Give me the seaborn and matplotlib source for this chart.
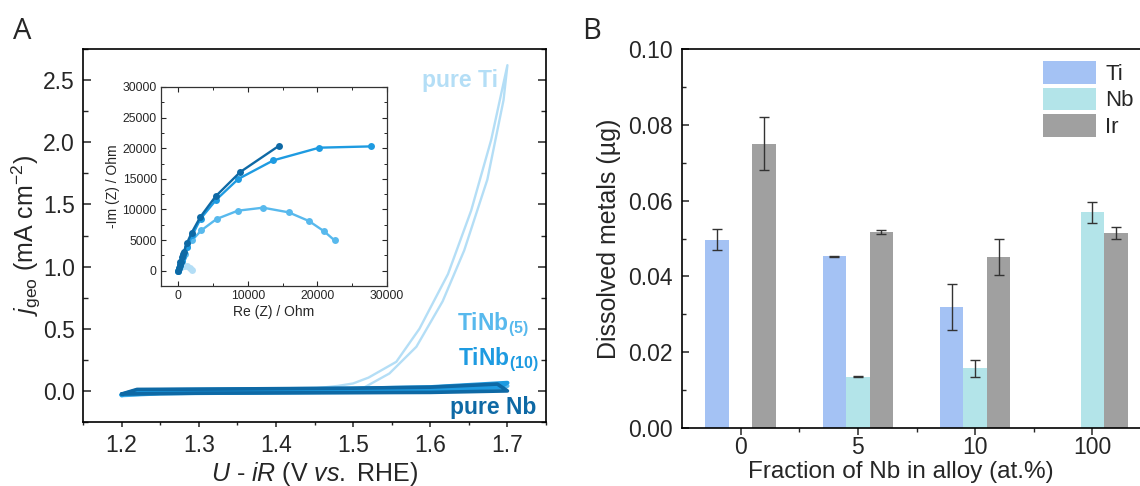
import numpy as np
import pandas as pd
import matplotlib
matplotlib.use("Agg")
import matplotlib.pyplot as plt
from matplotlib.ticker import MultipleLocator, FixedLocator
import seaborn as sns

# ---------------- data: panel A (CV curves) ----------------
ti_v = [1.20, 1.22, 1.30, 1.40, 1.45, 1.48, 1.50, 1.52, 1.556, 1.586, 1.623, 1.653, 1.679, 1.700,
        1.695, 1.674, 1.644, 1.616, 1.582, 1.547, 1.515, 1.48, 1.40, 1.30, 1.22, 1.20]
ti_j = [-0.03, 0.0, 0.005, 0.01, 0.02, 0.04, 0.06, 0.107, 0.234, 0.50, 0.94, 1.45, 2.02, 2.62,
        2.34, 1.70, 1.13, 0.72, 0.355, 0.14, 0.03, 0.0, -0.01, -0.02, -0.025, -0.03]
nb5_v = [1.20, 1.22, 1.35, 1.50, 1.60, 1.70, 1.69, 1.55, 1.40, 1.25, 1.20]
nb5_j = [-0.035, 0.0, 0.008, 0.012, 0.02, 0.04, 0.02, -0.008, -0.012, -0.02, -0.035]
nb10_v = [1.20, 1.22, 1.35, 1.50, 1.60, 1.70, 1.69, 1.55, 1.40, 1.25, 1.20]
nb10_j = [-0.03, 0.005, 0.012, 0.018, 0.03, 0.065, 0.03, -0.005, -0.01, -0.018, -0.03]
nbp_v = [1.20, 1.22, 1.35, 1.50, 1.60, 1.687, 1.70, 1.60, 1.45, 1.30, 1.20]
nbp_j = [-0.025, 0.012, 0.016, 0.022, 0.03, 0.055, 0.0, -0.012, -0.015, -0.018, -0.025]

# ---------------- data: inset (Nyquist) ----------------
eis_ti_re = [0, 300, 800, 1300, 1700, 2000]
eis_ti_im = [0, 500, 800, 700, 400, 100]
eis_nb5_re = [0, 200, 500, 900, 1300, 1960, 3300, 5490, 8550, 12180, 15860, 18780, 20970, 22460]
eis_nb5_im = [0, 800, 1800, 2800, 3800, 4950, 6590, 8440, 9800, 10290, 9530, 8110, 6420, 4950]
eis_nb10_re = [0, 150, 300, 500, 700, 1200, 2000, 3200, 5450, 8600, 13660, 20260, 27710]
eis_nb10_im = [0, 500, 1000, 1600, 2200, 3800, 5800, 8500, 11600, 14970, 18020, 20090, 20300]
eis_nbp_re = [0, 100, 200, 300, 380, 450, 600, 765, 1240, 1910, 3150, 5350, 8890, 14480]
eis_nbp_im = [0, 500, 1000, 1500, 1415, 2200, 2700, 3050, 4520, 6200, 8760, 12140, 16110, 20410]

# ---------------- data: panel B (bars) ----------------
fractions = ["0", "5", "10", "100"]
metals = ["Ti", "Nb", "Ir"]
ti_vals = [0.0497, 0.0453, 0.0319, np.nan]
ti_errs = [0.0027, 0.0001, 0.0060, np.nan]
nb_vals = [np.nan, 0.0135, 0.0157, 0.0569]
nb_errs = [np.nan, 0.0001, 0.0023, 0.0027]
ir_vals = [0.0750, 0.0517, 0.0451, 0.0515]
ir_errs = [0.0070, 0.0005, 0.0047, 0.0015]

# ---------------- style ----------------
sns.set_style("ticks")
plt.rcParams["font.family"] = ["Liberation Sans", "DejaVu Sans"]
plt.rcParams["mathtext.fontset"] = "custom"
plt.rcParams["mathtext.rm"] = "Liberation Sans"
plt.rcParams["mathtext.it"] = "Liberation Sans:italic"
plt.rcParams["mathtext.bf"] = "Liberation Sans:bold"

c_ti = "#b4def6"
c_nb5 = "#58b9ed"
c_nb10 = "#1e9be1"
c_nbp = "#0e69a5"

W, H = 1140, 486
fig = plt.figure(figsize=(W / 100, H / 100), dpi=100)

def fa(l, t, r, b):
    return [l / W, 1 - b / H, (r - l) / W, (b - t) / H]

axA = fig.add_axes(fa(83, 49, 546, 422))
axB = fig.add_axes(fa(682, 49, 1151, 428))
axI = fig.add_axes(fa(161, 87, 387, 286))

TICK_FS = 16.5
LAB_FS = 18

# ---------------- panel A ----------------
def cv(ax, v, j, color, lw):
    df = pd.DataFrame({"v": v, "j": j})
    sns.lineplot(data=df, x="v", y="j", sort=False, estimator=None, color=color,
                 lw=lw, ax=ax)

cv(axA, ti_v, ti_j, c_ti, 1.7)
cv(axA, nb5_v, nb5_j, c_nb5, 3.0)
cv(axA, nb10_v, nb10_j, c_nb10, 3.0)
cv(axA, nbp_v, nbp_j, c_nbp, 2.6)

axA.set_xlim(1.15, 1.75)
axA.set_ylim(-0.25, 2.75)
axA.xaxis.set_major_locator(MultipleLocator(0.1))
axA.xaxis.set_minor_locator(MultipleLocator(0.05))
axA.yaxis.set_major_locator(MultipleLocator(0.5))
axA.yaxis.set_minor_locator(MultipleLocator(0.25))
axA.tick_params(axis="y", which="both", direction="in", left=True, right=True, labelsize=TICK_FS, pad=6)
axA.tick_params(axis="y", which="major", length=6, width=1.1)
axA.tick_params(axis="y", which="minor", length=3.5, width=1.0)
axA.tick_params(axis="x", which="both", direction="out", bottom=True, top=False, labelsize=TICK_FS, pad=5)
axA.tick_params(axis="x", which="major", length=3.5, width=1.1)
axA.tick_params(axis="x", which="minor", length=2.5, width=1.0)
for s in axA.spines.values():
    s.set_linewidth(1.2)
    s.set_color("black")
axA.set_xlabel(r"$U$ - $iR$ (V $vs.$ RHE)", fontsize=LAB_FS, labelpad=2)
axA.set_ylabel(r"$j_{\mathrm{geo}}$ (mA cm$^{-2}$)", fontsize=LAB_FS, labelpad=0)

lab_kw = dict(fontsize=16.5, fontweight="bold", ha="right", va="center")
axA.text(1.688, 2.5, "pure Ti", color=c_ti, **lab_kw)
axA.text(1.728, 0.53, r"TiNb$_{\mathbf{(5)}}$", color=c_nb5, **lab_kw)
axA.text(1.741, 0.25, r"TiNb$_{\mathbf{(10)}}$", color=c_nb10, **lab_kw)
axA.text(1.738, -0.13, "pure Nb", color=c_nbp, **lab_kw)

# ---------------- inset ----------------
def eis(ax, re, im, color):
    df = pd.DataFrame({"re": re, "im": im})
    sns.lineplot(data=df, x="re", y="im", sort=False, estimator=None, color=color,
                 lw=1.7, marker="o", markersize=5, markeredgewidth=0, ax=ax)

eis(axI, eis_ti_re, eis_ti_im, c_ti)
eis(axI, eis_nb5_re, eis_nb5_im, c_nb5)
eis(axI, eis_nb10_re, eis_nb10_im, c_nb10)
eis(axI, eis_nbp_re, eis_nbp_im, c_nbp)
axI.set_xlim(-2500, 30000)
axI.set_ylim(-2500, 30000)
axI.xaxis.set_major_locator(MultipleLocator(10000))
axI.xaxis.set_minor_locator(MultipleLocator(5000))
axI.yaxis.set_major_locator(MultipleLocator(5000))
axI.yaxis.set_minor_locator(MultipleLocator(2500))
axI.tick_params(which="both", direction="in", left=True, right=True, top=True, bottom=True,
                labelsize=8.7, pad=3)
axI.tick_params(which="major", length=3.5, width=0.8)
axI.tick_params(which="minor", length=2, width=0.7)
for s in axI.spines.values():
    s.set_linewidth(0.9)
    s.set_color("#333333")
axI.set_xlabel("Re (Z) / Ohm", fontsize=10, labelpad=2)
axI.set_ylabel("-Im (Z) / Ohm", fontsize=10, labelpad=2)

# ---------------- panel B ----------------
rows = []
errs = {}
for m, vals, es in [("Ti", ti_vals, ti_errs), ("Nb", nb_vals, nb_errs), ("Ir", ir_vals, ir_errs)]:
    for f, v, e in zip(fractions, vals, es):
        if not np.isnan(v):
            rows.append({"fraction": f, "metal": m, "value": v})
            errs[(m, f)] = e
dfB = pd.DataFrame(rows)
pal = {"Ti": "#a4c2f4", "Nb": "#b3e4e9", "Ir": "#a0a0a0"}
sns.barplot(data=dfB, x="fraction", y="value", hue="metal", order=fractions, hue_order=metals,
            palette=pal, width=0.6, saturation=1, errorbar=None, ax=axB, linewidth=0)

for bar in list(axB.patches):
    h = bar.get_height()
    if not np.isfinite(h) or h <= 0:
        continue
    xc = bar.get_x() + bar.get_width() / 2
    ci = int(round(xc))
    off = xc - ci
    mi = int(round(off / 0.2)) + 1
    if ci < 0 or ci >= len(fractions) or mi < 0 or mi > 2:
        continue
    key = (metals[mi], fractions[ci])
    if key in errs:
        axB.errorbar(xc, h, yerr=errs[key], fmt="none", ecolor="#333333",
                     elinewidth=1.0, capsize=3.5, capthick=1.0)

axB.set_xlim(-0.5, 3.5)
axB.set_ylim(0, 0.10)
axB.yaxis.set_major_locator(MultipleLocator(0.02))
axB.yaxis.set_minor_locator(MultipleLocator(0.01))
axB.yaxis.set_major_formatter(matplotlib.ticker.FormatStrFormatter("%.2f"))
axB.xaxis.set_minor_locator(FixedLocator([0.5, 1.5, 2.5]))
axB.tick_params(axis="x", which="both", direction="out", labelsize=TICK_FS, pad=1)
axB.tick_params(axis="x", which="major", length=5, width=1.1)
axB.tick_params(axis="x", which="minor", length=3, width=1.0)
axB.tick_params(axis="y", which="both", direction="in", labelsize=TICK_FS, pad=7)
axB.tick_params(axis="y", which="major", length=5, width=1.1)
axB.tick_params(axis="y", which="minor", length=3, width=1.0)
for s in axB.spines.values():
    s.set_linewidth(1.2)
    s.set_color("black")
axB.set_xlabel("Fraction of Nb in alloy (at.%)", fontsize=17.5)
axB.xaxis.set_label_coords((901 - 682) / 469, -33 / 379)
axB.set_ylabel("Dissolved metals (µg)", fontsize=LAB_FS, labelpad=5)

axB.legend(loc="upper left", bbox_to_anchor=(1043 / W, 1 - 61 / H), bbox_transform=fig.transFigure,
           frameon=False, borderpad=0, borderaxespad=0, handlelength=2.4, handleheight=1.2,
           labelspacing=0.12, handletextpad=0.4, fontsize=16, title=None)

# panel letters
fig.text(13 / W, 1 - 39 / H, "A", fontsize=21, family=["Open Sans", "DejaVu Sans"])
fig.text(582 / W, 1 - 39 / H, "B", fontsize=21, family=["Open Sans", "DejaVu Sans"])

fig.savefig("out.png", dpi=100)
